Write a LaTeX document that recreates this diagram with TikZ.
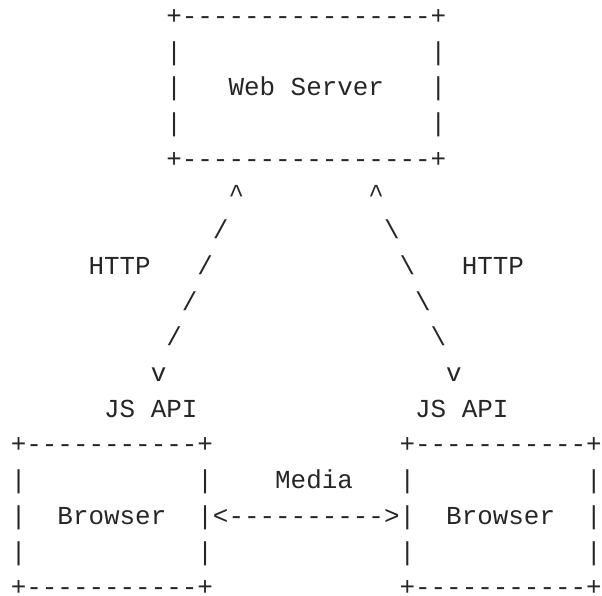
\documentclass[tikz,border=0pt]{standalone}
\usepackage{fontspec}
\newfontfamily\asciifont{Liberation Mono}
\definecolor{inkgray}{RGB}{38,38,38}
\tikzset{
  glyph/.style={anchor=base west, inner sep=0pt, outer sep=0pt, text=inkgray,
    text depth=0pt, font=\asciifont\fontsize{25.92}{26}\selectfont},
}
% ascii box: name, left col, top row, right col, bottom row
\newcommand{\asciibox}[5]{
  \pgfmathtruncatemacro\colA{#2+1}
  \pgfmathtruncatemacro\colB{#4-1}
  \pgfmathtruncatemacro\rowA{#3+1}
  \pgfmathtruncatemacro\rowB{#5-1}
  \foreach \c in {\colA,...,\colB} {
    \node[glyph] (#1-t\c) at (\c,#3) {-};
    \node[glyph] (#1-b\c) at (\c,#5) {-};
  }
  \foreach \r in {\rowA,...,\rowB} {
    \node[glyph] (#1-l\r) at (#2,\r) {|};
    \node[glyph] (#1-r\r) at (#4,\r) {|};
  }
  \node[glyph] (#1-tl) at (#2,#3) {+};
  \node[glyph] (#1-tr) at (#4,#3) {+};
  \node[glyph] (#1-bl) at (#2,#5) {+};
  \node[glyph] (#1-br) at (#4,#5) {+};
}

\begin{document}
\begin{tikzpicture}[x=15.55pt, y=-35.7pt]
\useasboundingbox (-10.8pt,24.5pt) rectangle (591.2pt,-571.5pt);

% boxes
\asciibox{srv}{10}{0}{27}{4}
\asciibox{bl}{0}{12}{12}{16}
\asciibox{br}{25}{12}{37}{16}
\node[glyph] (server) at (14,2) {Web Server};
\node[glyph] (browserL) at (3,14) {Browser};
\node[glyph] (browserR) at (28,14) {Browser};

% HTTP links
\node[glyph] (upL) at (14,5) {\textasciicircum};
\node[glyph] (upR) at (23,5) {\textasciicircum};
\foreach [evaluate=\i as \cl using int(14-\i),
          evaluate=\i as \cr using int(23+\i),
          evaluate=\i as \r using int(5+\i)] \i in {1,...,4}
{
  \node[glyph] (slL\i) at (\cl,\r) {/};
  \node[glyph] (slR\i) at (\cr,\r) {\textbackslash};
}
\node[glyph] (downL) at (9,10) {v};
\node[glyph] (downR) at (28,10) {v};
\node[glyph] (httpL) at (5,7) {HTTP};
\node[glyph] (httpR) at (29,7) {HTTP};
\node[glyph] (apiL) at (6,11) {JS API};
\node[glyph] (apiR) at (26,11) {JS API};

% media link
\node[glyph] (media) at (17,13) {Media};
\node[glyph] (arrL) at (13,14) {<};
\foreach \c in {14,...,23}
{
  \node[glyph] (dash\c) at (\c,14) {-};
}
\node[glyph] (arrR) at (24,14) {>};
\end{tikzpicture}
\end{document}
